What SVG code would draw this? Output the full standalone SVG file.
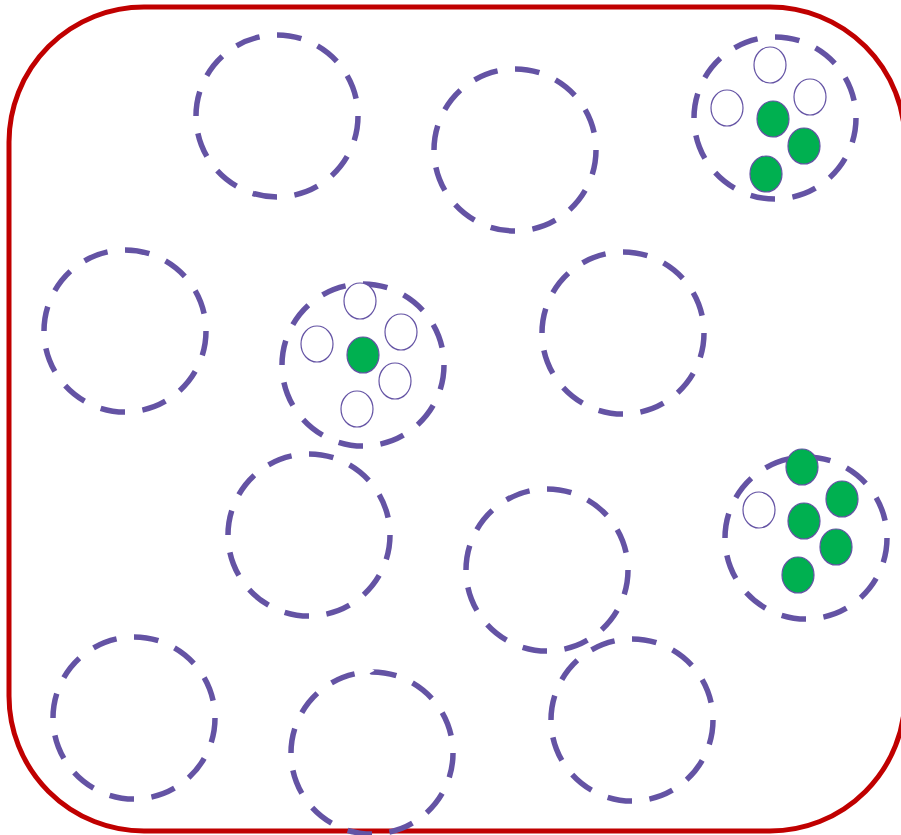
<svg xmlns="http://www.w3.org/2000/svg" width="901" height="835" viewBox="0 0 901 835">
<style>
.frame{fill:#fff;stroke:#C00000;stroke-width:5}
.cell{fill:none;stroke:#6453A4;stroke-width:5.5;stroke-dasharray:0.585 0.415}
.w{fill:#fff;stroke:#6453A4;stroke-width:1.2}
.g{fill:#00B050;stroke:#6453A4;stroke-width:1.2}
</style>
<rect width="901" height="835" fill="#fff"/>
<rect id="container" class="frame" x="9" y="7" width="896" height="824" rx="135" ry="135"/>
<g id="c1"><circle class="cell" pathLength="12" cx="277" cy="116" r="81"/></g>
<g id="c2"><circle class="cell" pathLength="12" cx="515" cy="150" r="81"/></g>
<g id="c3"><circle class="cell" pathLength="12" cx="775" cy="118" r="81"/>
<ellipse class="w" cx="770" cy="65" rx="16" ry="18"/>
<ellipse class="w" cx="810" cy="97" rx="16" ry="18"/>
<ellipse class="w" cx="727" cy="108" rx="16" ry="18"/>
<ellipse class="g" cx="773" cy="119" rx="16" ry="18"/>
<ellipse class="g" cx="804" cy="146" rx="16" ry="18"/>
<ellipse class="g" cx="766" cy="174" rx="16" ry="18"/>
</g>
<g id="c4"><circle class="cell" pathLength="12" cx="125" cy="331" r="81"/></g>
<g id="c5"><circle class="cell" pathLength="12" cx="363" cy="365" r="81"/>
<ellipse class="w" cx="360" cy="301" rx="16" ry="18"/>
<ellipse class="w" cx="317" cy="344" rx="16" ry="18"/>
<ellipse class="w" cx="401" cy="332" rx="16" ry="18"/>
<ellipse class="g" cx="363" cy="355" rx="16" ry="18"/>
<ellipse class="w" cx="395" cy="381" rx="16" ry="18"/>
<ellipse class="w" cx="357" cy="409" rx="16" ry="18"/>
</g>
<g id="c6"><circle class="cell" pathLength="12" cx="623" cy="333" r="81"/></g>
<g id="c7"><circle class="cell" pathLength="12" cx="309" cy="535" r="81"/></g>
<g id="c8"><circle class="cell" pathLength="12" cx="547" cy="570" r="81"/></g>
<g id="c9"><circle class="cell" pathLength="12" cx="806" cy="538" r="81"/>
<ellipse class="g" cx="802" cy="467" rx="16" ry="18"/>
<ellipse class="w" cx="759" cy="510" rx="16" ry="18"/>
<ellipse class="g" cx="842" cy="499" rx="16" ry="18"/>
<ellipse class="g" cx="804" cy="521" rx="16" ry="18"/>
<ellipse class="g" cx="836" cy="547" rx="16" ry="18"/>
<ellipse class="g" cx="798" cy="575" rx="16" ry="18"/>
</g>
<g id="c10"><circle class="cell" pathLength="12" cx="134" cy="718" r="81"/></g>
<g id="c11"><circle class="cell" pathLength="12" cx="372" cy="753" r="81"/></g>
<g id="c12"><circle class="cell" pathLength="12" cx="632" cy="720" r="81"/></g>
</svg>
